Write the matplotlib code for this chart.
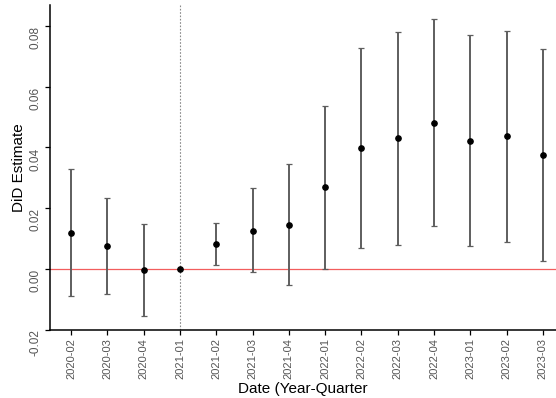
import matplotlib.pyplot as plt

plt.rcParams['font.family'] = ['Liberation Sans', 'DejaVu Sans']

# estimaciones DiD por trimestre
quarters = ['2020-02', '2020-03', '2020-04', '2021-01', '2021-02', '2021-03', '2021-04',
            '2022-01', '2022-02', '2022-03', '2022-04', '2023-01', '2023-02', '2023-03']
estimate = [0.0119, 0.0075, -0.0003, 0.0, 0.0083, 0.0126, 0.0146,
            0.0269, 0.0399, 0.0431, 0.0481, 0.0423, 0.0439, 0.0376]
ci_low = [-0.0089, -0.0084, -0.0154, 0.0, 0.0012, -0.0010, -0.0053,
          0.0000, 0.0068, 0.0080, 0.0140, 0.0075, 0.0090, 0.0027]
ci_high = [0.0330, 0.0235, 0.0149, 0.0, 0.0152, 0.0266, 0.0347,
           0.0536, 0.0728, 0.0781, 0.0822, 0.0772, 0.0784, 0.0723]
ref_quarter = '2021-01'
yticks = [-0.02, 0.00, 0.02, 0.04, 0.06, 0.08]

x = list(range(len(quarters)))
err_lo = [e - l for e, l in zip(estimate, ci_low)]
err_hi = [h - e for e, h in zip(estimate, ci_high)]

fig = plt.figure(figsize=(5.56, 3.98), dpi=100)
ax = fig.add_axes([0.09, 0.172, 0.91, 0.815])

ax.axhline(0, color='#f04040', lw=0.9, alpha=0.85, zorder=1)
ax.axvline(quarters.index(ref_quarter), color='#8a8a8a', lw=0.8, ls=(0, (1.5, 1.5)), zorder=1)

ax.errorbar(x, estimate, yerr=[err_lo, err_hi], fmt='none', ecolor='#5e5e5e',
            elinewidth=1.4, capsize=2, capthick=0.9, zorder=2)
ax.plot(x, estimate, 'o', color='black', ms=3.8, zorder=3)

ax.set_xlim(-0.58, 13.36)
ax.set_ylim(-0.02, 0.0869)
ax.set_xticks(x)
ax.set_xticklabels(quarters, rotation=90, color='#555555', fontsize=8)
ax.set_yticks(yticks)
ax.set_yticklabels(['%.2f' % v for v in yticks], color='#555555', fontsize=8.5)
for lab in ax.get_yticklabels():
    lab.set_rotation(90)
    lab.set_rotation_mode('anchor')
    lab.set_ha('right')
    lab.set_va('bottom')

ax.spines['top'].set_visible(False)
ax.spines['right'].set_visible(False)
ax.spines['left'].set_linewidth(1.1)
ax.spines['bottom'].set_linewidth(1.1)
ax.tick_params(length=3.5, width=0.9, pad=2.5)

ax.set_xlabel('Date (Year-Quarter', fontsize=11, labelpad=2)
ax.set_ylabel('DiD Estimate', fontsize=11, labelpad=3)

fig.savefig('out.png', dpi=100)
